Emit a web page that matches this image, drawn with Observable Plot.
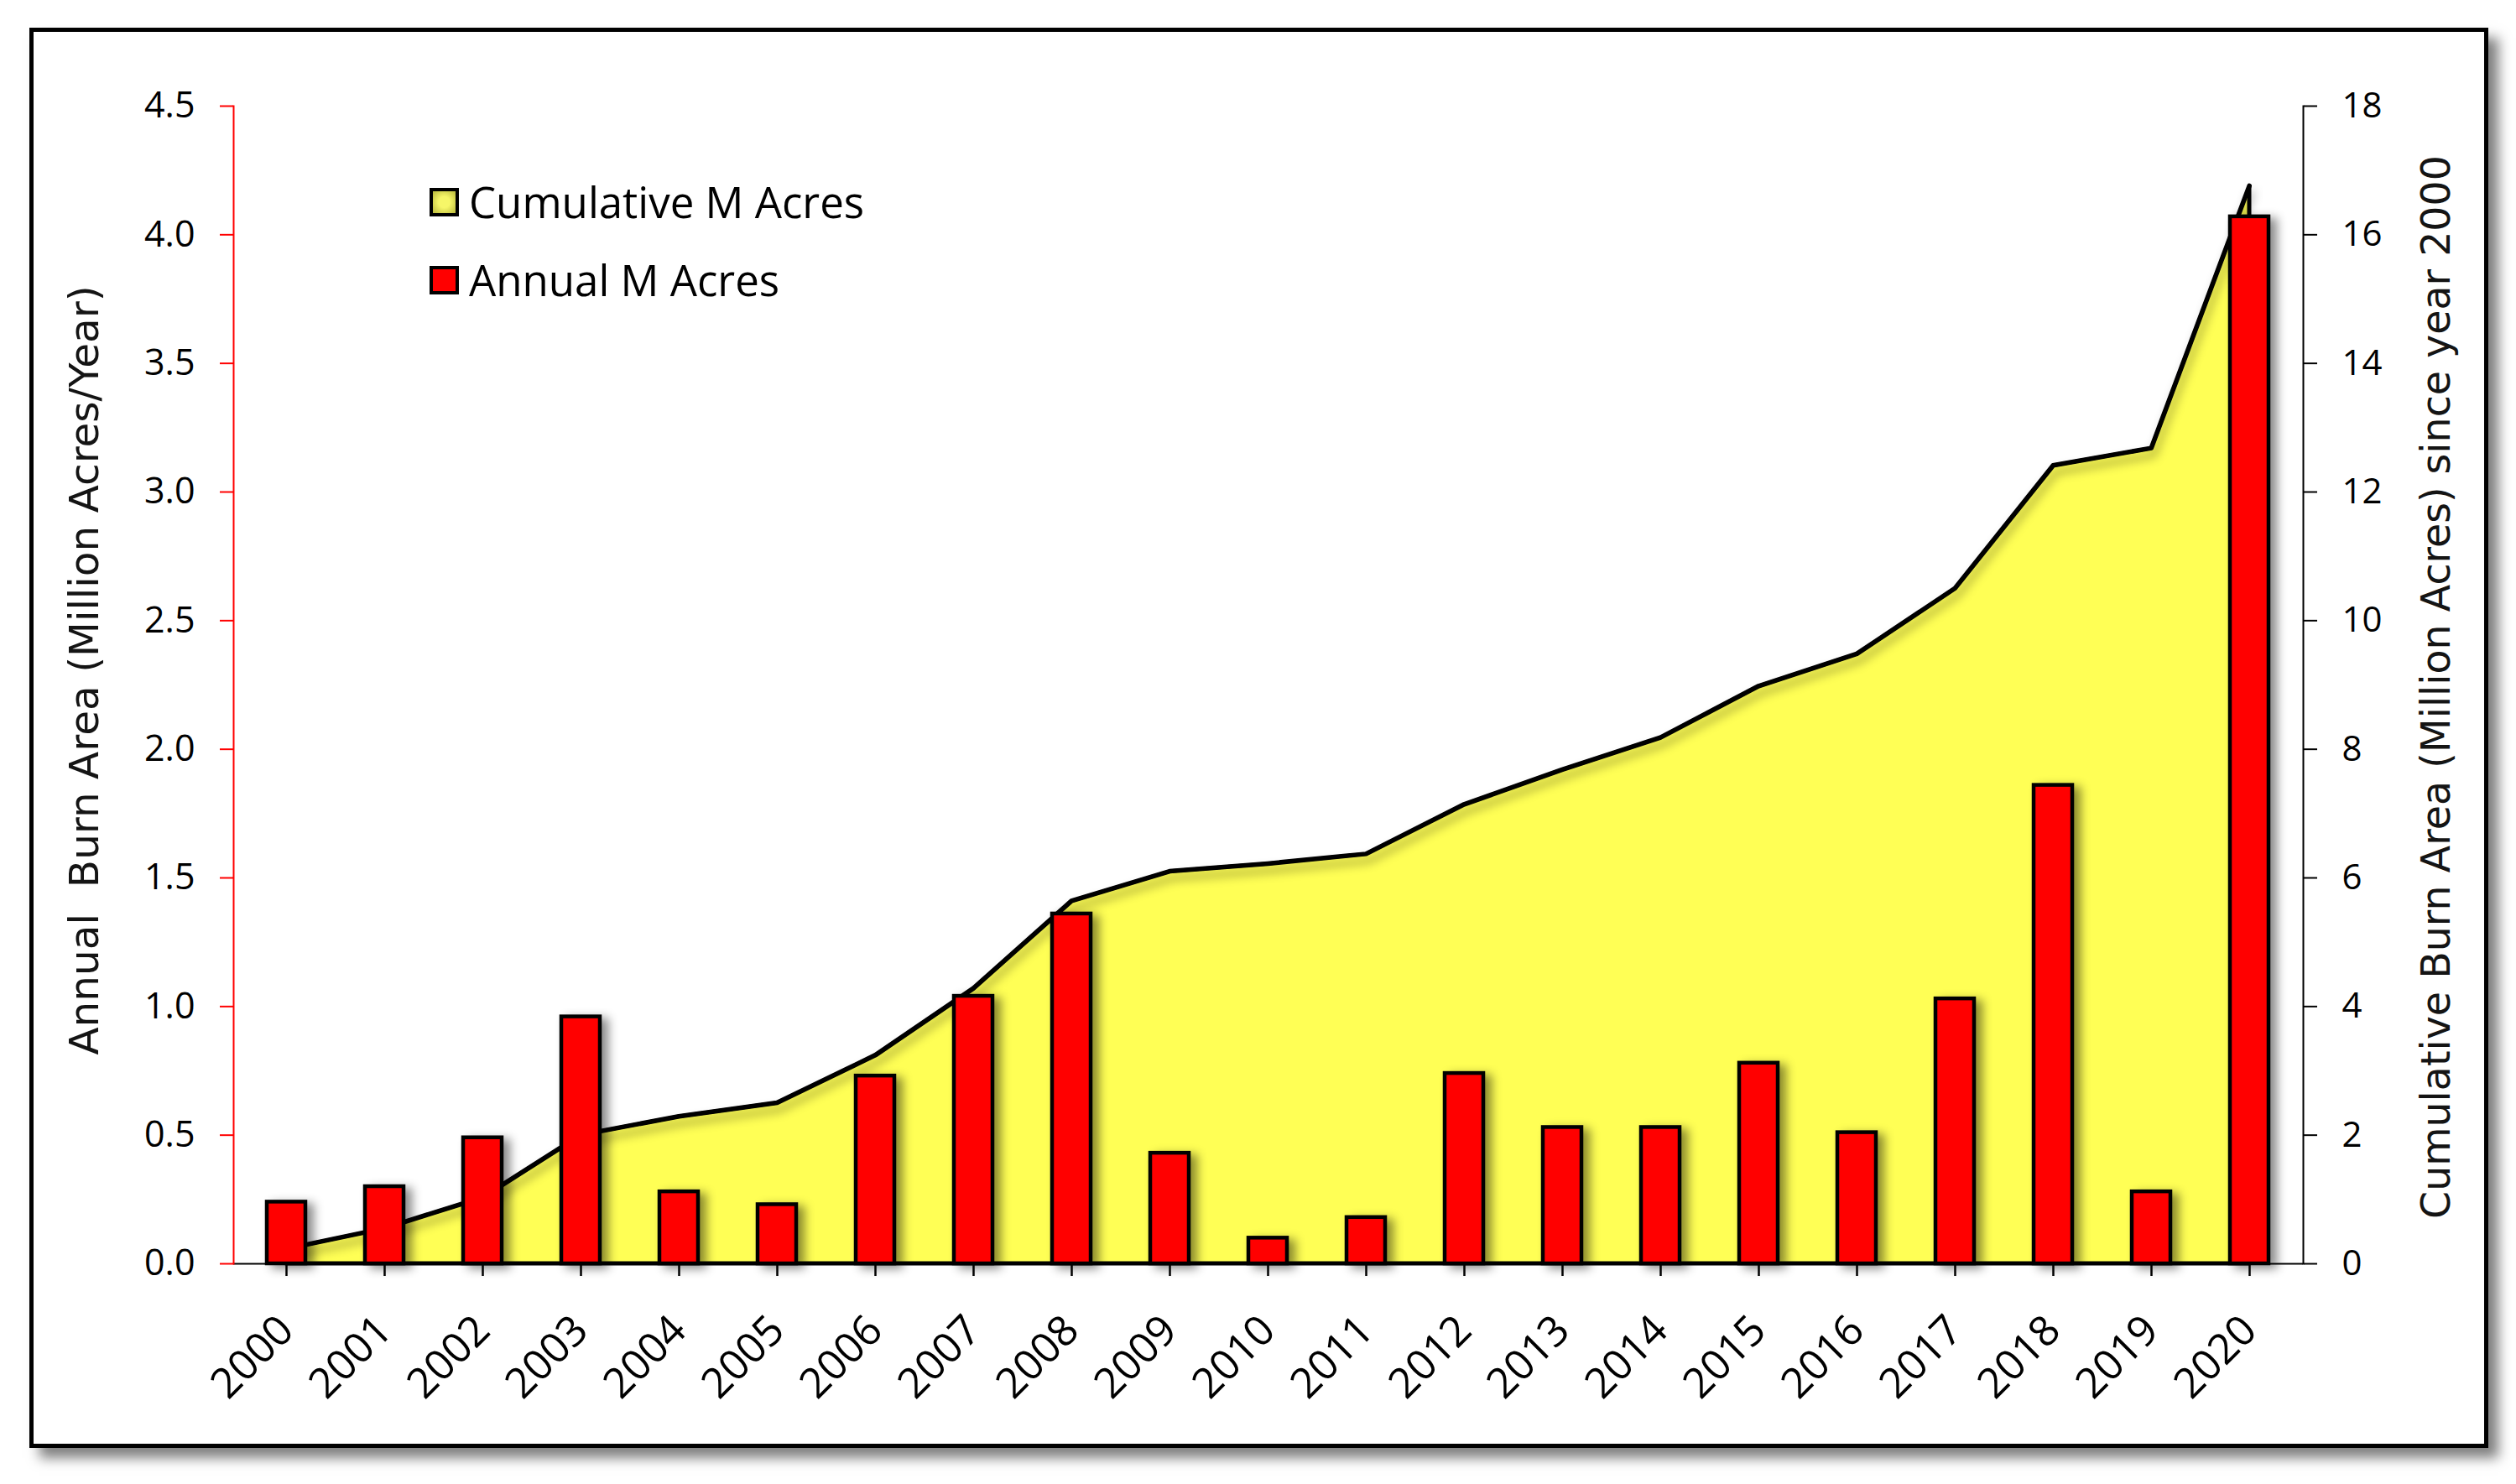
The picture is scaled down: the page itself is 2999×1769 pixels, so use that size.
<!DOCTYPE html>
<html>
<head>
<meta charset="utf-8">
<script src="https://cdn.jsdelivr.net/npm/d3@7"></script>
<script src="https://cdn.jsdelivr.net/npm/@observablehq/plot@0.6"></script>
<style>
html, body { margin: 0; padding: 0; background: #fff; }
#page { position: relative; width: 2999px; height: 1769px; overflow: hidden; background: #fff; }
#frame { position: absolute; left: 35px; top: 33px; width: 2921px; height: 1683px; border: 5px solid #000; background: #fff; box-shadow: 12px 12px 14px rgba(0,0,0,0.5); }
#chart { position: absolute; left: 0; top: 0; }
#chart svg { background: transparent; overflow: visible; }
g[aria-label="bar"] { filter: drop-shadow(8px 4px 6px rgba(0,0,0,0.45)); }
g[aria-label="line"] { filter: drop-shadow(3px 8px 6px rgba(0,0,0,0.4)); }
.ytitle { position: absolute; font-family: "DejaVu Sans", Verdana, sans-serif; font-size: 48.5px; color: #141414; white-space: pre; transform: translate(-50%, -50%) rotate(-90deg); line-height: 1; }
.legend-row { position: absolute; left: 512px; display: flex; align-items: center; font-family: "Open Sans", sans-serif; font-size: 51px; color: #000; line-height: 61px; height: 61px; }
.sw { width: 27px; height: 26px; border: 4px solid #000; margin-right: 12px; }
</style>
</head>
<body>
<div id="page">
  <div id="frame"></div>
  <div id="chart"></div>
  <div class="ytitle" style="left:100px; top:799px;">Annual  Burn Area (Million Acres/Year)</div>
  <div class="ytitle" style="left:2904px; top:819px; font-size:47.5px;">Cumulative Burn Area (Million Acres) since year 2000</div>
  <div class="legend-row" style="top:210px;"><div class="sw" style="background: radial-gradient(circle, #f6f668 35%, #b9b93c 100%);"></div>Cumulative M Acres</div>
  <div class="legend-row" style="top:303px;"><div class="sw" style="background:#FF0000;"></div>Annual M Acres</div>
</div>
<script>
const years = ["2000","2001","2002","2003","2004","2005","2006","2007","2008","2009","2010",
               "2011","2012","2013","2014","2015","2016","2017","2018","2019","2020"];
const annual = [0.24, 0.30, 0.49, 0.96, 0.28, 0.23, 0.73, 1.04, 1.36, 0.43, 0.10,
                0.18, 0.74, 0.53, 0.53, 0.78, 0.51, 1.03, 1.86, 0.28, 4.07];
const cumulative = [0.23, 0.55, 1.03, 2.00, 2.29, 2.50, 3.24, 4.28, 5.64, 6.10, 6.22,
                    6.37, 7.14, 7.68, 8.18, 8.98, 9.48, 10.50, 12.41, 12.68, 16.76];
const leftTicks = [0, 0.5, 1.0, 1.5, 2.0, 2.5, 3.0, 3.5, 4.0, 4.5];
const rightTicks = [0, 2, 4, 6, 8, 10, 12, 14, 16, 18];
const ratio = 4; // right axis max (18) / left axis max (4.5)

const data = years.map((year, i) => ({year, annual: annual[i], cum: cumulative[i]}));

const chart = Plot.plot({
  width: 2999,
  height: 1769,
  marginLeft: 278,
  marginRight: 254,
  marginTop: 126,
  marginBottom: 263,
  style: {background: "transparent", overflow: "visible", fontFamily: "Open Sans"},
  x: {type: "band", domain: years, paddingInner: 0.604, paddingOuter: 0.302, label: null},
  y: {domain: [0, 4.5], label: null},
  marks: [
    Plot.areaY(data, {x: "year", y: d => d.cum / ratio, fill: "#FFFF55", stroke: "#000", strokeWidth: 5}),
    Plot.lineY(data, {x: "year", y: d => d.cum / ratio, stroke: "#000", strokeWidth: 5}),
    Plot.ruleY([0], {stroke: "#000", strokeWidth: 2}),
    Plot.barY(data, {x: "year", y: "annual", fill: "#FF0000", stroke: "#000", strokeWidth: 4.5}),
    Plot.frame({anchor: "left", stroke: "#FF0000", strokeWidth: 2}),
    Plot.frame({anchor: "right", stroke: "#000", strokeWidth: 2}),
    Plot.axisY(leftTicks, {anchor: "left", stroke: "#FF0000", fill: "#000", strokeWidth: 2, tickSize: 16, tickPadding: 30,
      tickFormat: d3.format(".1f"), fontSize: 43, fontFamily: "Open Sans", label: null}),
    Plot.axisY(rightTicks.map(v => v / ratio), {anchor: "right", stroke: "#000", fill: "#000", strokeWidth: 2, tickSize: 16, tickPadding: 30,
      tickFormat: v => String(Math.round(v * ratio)), fontSize: 42, fontFamily: "Open Sans", label: null}),
    Plot.axisX({anchor: "bottom", tickSize: 15, tickPadding: 56, tickRotate: -45, fontSize: 50, fontFamily: "Open Sans",
      stroke: "#000", fill: "#000", strokeWidth: 2.5, label: null})
  ]
});
document.getElementById("chart").appendChild(chart);
</script>
</body>
</html>
